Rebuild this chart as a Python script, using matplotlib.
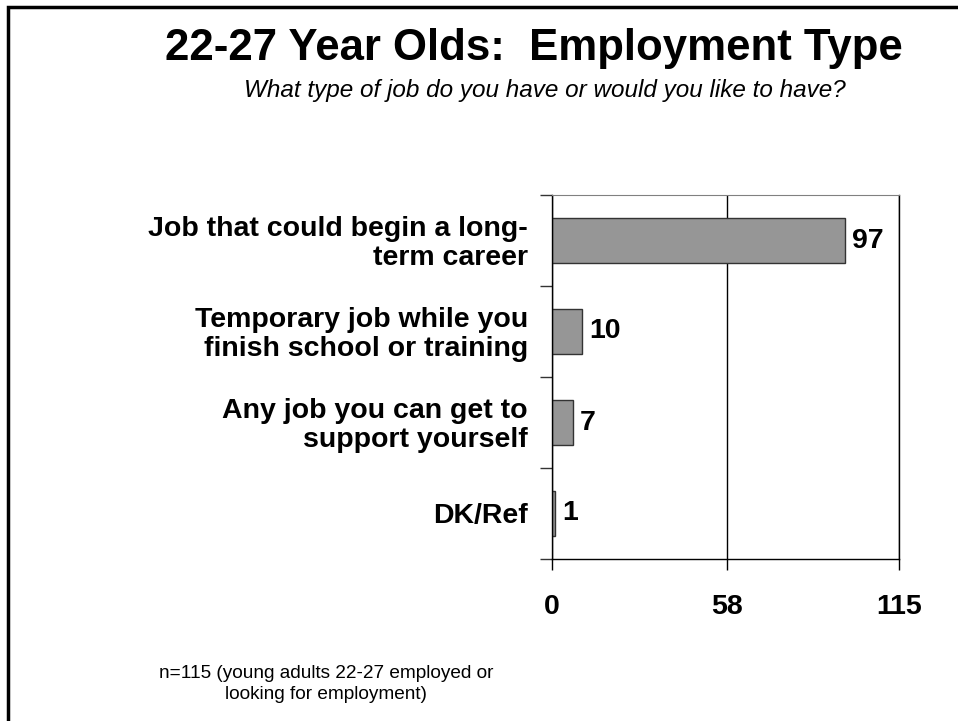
import matplotlib.pyplot as plt
from matplotlib.patches import Rectangle

categories = [
    "Job that could begin a long-\nterm career",
    "Temporary job while you\nfinish school or training",
    "Any job you can get to\nsupport yourself",
    "DK/Ref",
]
values = [97, 10, 7, 1]
x_ticks = [0, 58, 115]

plt.rcParams["font.family"] = ["Liberation Sans", "DejaVu Sans"]

fig = plt.figure(figsize=(9.58, 7.21), dpi=100)

# slide frame (only left/top visible)
fig.patches.append(Rectangle((8 / 958, -0.1), 1.2, 1 - 7 / 721 + 0.1,
                             transform=fig.transFigure, fill=False,
                             edgecolor="black", linewidth=2.5))

ax = fig.add_axes([552 / 958, 1 - 559 / 721, 347 / 958, 364 / 721])

ypos = range(len(values))
ax.barh(ypos, values, height=0.5, color="#969696", edgecolor="#333333", linewidth=1)
ax.set_ylim(len(values) - 0.5, -0.5)
ax.set_xlim(0, 115)

for y, v in zip(ypos, values):
    ax.text(v + 2.3, y, str(v), va="center", ha="left", fontsize=20.5, fontweight="bold")

ax.set_xticks(x_ticks)
ax.set_xticklabels([str(t) for t in x_ticks], fontsize=20.5, fontweight="bold")
ax.xaxis.grid(True, color="black", linewidth=1)
ax.set_axisbelow(True)
ax.tick_params(axis="x", length=8, pad=17, width=1)

ax.set_yticks([i + 0.5 for i in range(-1, len(values))])
ax.set_yticklabels([])
ax.tick_params(axis="y", length=9, width=1, color="#333333")
for y, lab in zip(ypos, categories):
    ax.text(-0.069, y + 0.03, lab, transform=ax.get_yaxis_transform(), ha="right", va="center",
            fontsize=20.5, fontweight="bold", multialignment="right", linespacing=1.15)

ax.spines["top"].set_color("#808080")
for s in ["left", "right", "bottom"]:
    ax.spines[s].set_color("black")
    ax.spines[s].set_linewidth(1)

fig.text(534 / 958, 1 - 60 / 721, "22-27 Year Olds:  Employment Type", ha="center",
         va="baseline", fontsize=31.5, fontweight="bold")
fig.text(545 / 958, 1 - 97 / 721, "What type of job do you have or would you like to have?",
         ha="center", va="baseline", fontsize=17.5, style="italic")
fig.text(326 / 958, 1 - 684 / 721,
         "n=115 (young adults 22-27 employed or\nlooking for employment)",
         ha="center", va="center", fontsize=13.7, linespacing=1.3)

fig.savefig("out.png", dpi=100)
